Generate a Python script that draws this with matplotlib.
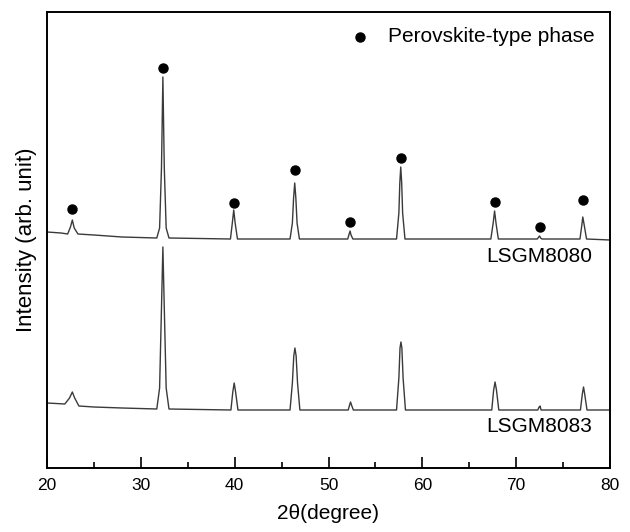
import matplotlib.pyplot as plt
from matplotlib.ticker import MultipleLocator

plt.rcParams['font.family'] = ['Liberation Sans', 'DejaVu Sans']

# LSGM8080 trace (2theta, intensity arb.)
x_8080 = [20.0, 21.5, 22.2, 22.5, 22.7, 22.9, 23.3, 25.0, 28.0,
          31.7, 32.0, 32.2, 32.35, 32.5, 32.7, 33.0,
          39.55, 39.75, 39.9, 40.05, 40.3,
          45.9, 46.15, 46.28, 46.4, 46.52, 46.65, 46.9,
          52.05, 52.2, 52.3, 52.4, 52.6,
          57.25, 57.5, 57.6, 57.7, 57.8, 57.9, 58.15,
          67.3, 67.55, 67.7, 67.85, 68.1,
          72.25, 72.4, 72.5, 72.6, 72.75,
          76.8, 77.0, 77.1, 77.25, 77.5, 80.0]
y_8080 = [236, 235, 234, 241, 248, 240, 234, 233, 231,
          230, 240, 300, 391, 300, 240, 230,
          229, 245, 258, 245, 229,
          229, 245, 270, 285, 270, 245, 229,
          229, 234, 237, 233, 229,
          229, 255, 285, 301, 285, 255, 229,
          229, 245, 257, 245, 229,
          229, 231, 232, 230, 229,
          229, 243, 251, 243, 229, 228]

# LSGM8083 trace
x_8083 = [20.0, 21.9, 22.4, 22.7, 22.95, 23.4, 25.0, 28.0,
          31.7, 32.0, 32.2, 32.35, 32.5, 32.7, 33.0,
          39.6, 39.8, 39.95, 40.1, 40.35,
          45.9, 46.15, 46.3, 46.42, 46.55, 46.7, 46.95,
          52.1, 52.25, 52.35, 52.45, 52.65,
          57.25, 57.5, 57.62, 57.72, 57.82, 57.95, 58.2,
          67.4, 67.6, 67.75, 67.9, 68.15,
          72.3, 72.45, 72.55, 72.65,
          76.85, 77.05, 77.18, 77.3, 77.55, 80.0]
y_8083 = [65, 64, 70, 76, 70, 62, 61, 60,
          59, 80, 160, 221, 160, 80, 59,
          58, 76, 85, 76, 58,
          58, 85, 112, 120, 112, 85, 58,
          58, 63, 66, 63, 58,
          58, 90, 120, 126, 120, 90, 58,
          58, 78, 86, 78, 58,
          58, 61, 62, 58,
          58, 74, 81, 74, 58, 58]

# perovskite markers above LSGM8080 peaks
mark_x = [22.7, 32.35, 39.9, 46.4, 52.3, 57.7, 67.7, 72.5, 77.1]
mark_y = [259, 400, 265, 298, 246, 310, 266, 241, 268]

fig = plt.figure(figsize=(6.3, 5.32), dpi=100)
ax = fig.add_axes([47/630, 1 - 468/532, 563/630, 456/532])

ax.plot(x_8080, y_8080, color='#3a3a3a', lw=1.0)
ax.plot(x_8083, y_8083, color='#3a3a3a', lw=1.0)
ax.plot(mark_x, mark_y, 'o', color='black', ms=6.5)

ax.plot([53.4], [431], 'o', color='black', ms=6.5)
ax.text(56.3, 431, 'Perovskite-type phase', fontsize=15, va='center', ha='left')
ax.text(72.5, 211, 'LSGM8080', fontsize=15, ha='center', va='center')
ax.text(72.5, 41, 'LSGM8083', fontsize=15, ha='center', va='center')

ax.set_xlim(20, 80)
ax.set_ylim(0, 456)
ax.xaxis.set_major_locator(MultipleLocator(10))
ax.xaxis.set_minor_locator(MultipleLocator(5))
ax.tick_params(axis='x', which='major', direction='in', length=8, width=1.2,
               labelsize=12.5, pad=7)
ax.tick_params(axis='x', which='minor', direction='in', length=4, width=1.2)
ax.set_yticks([])
for s in ax.spines.values():
    s.set_linewidth(1.4)

ax.set_xlabel('2θ(degree)', fontsize=15, labelpad=8)
ax.set_ylabel('Intensity (arb. unit)', fontsize=16, labelpad=7)

fig.savefig('out.png', dpi=100)
